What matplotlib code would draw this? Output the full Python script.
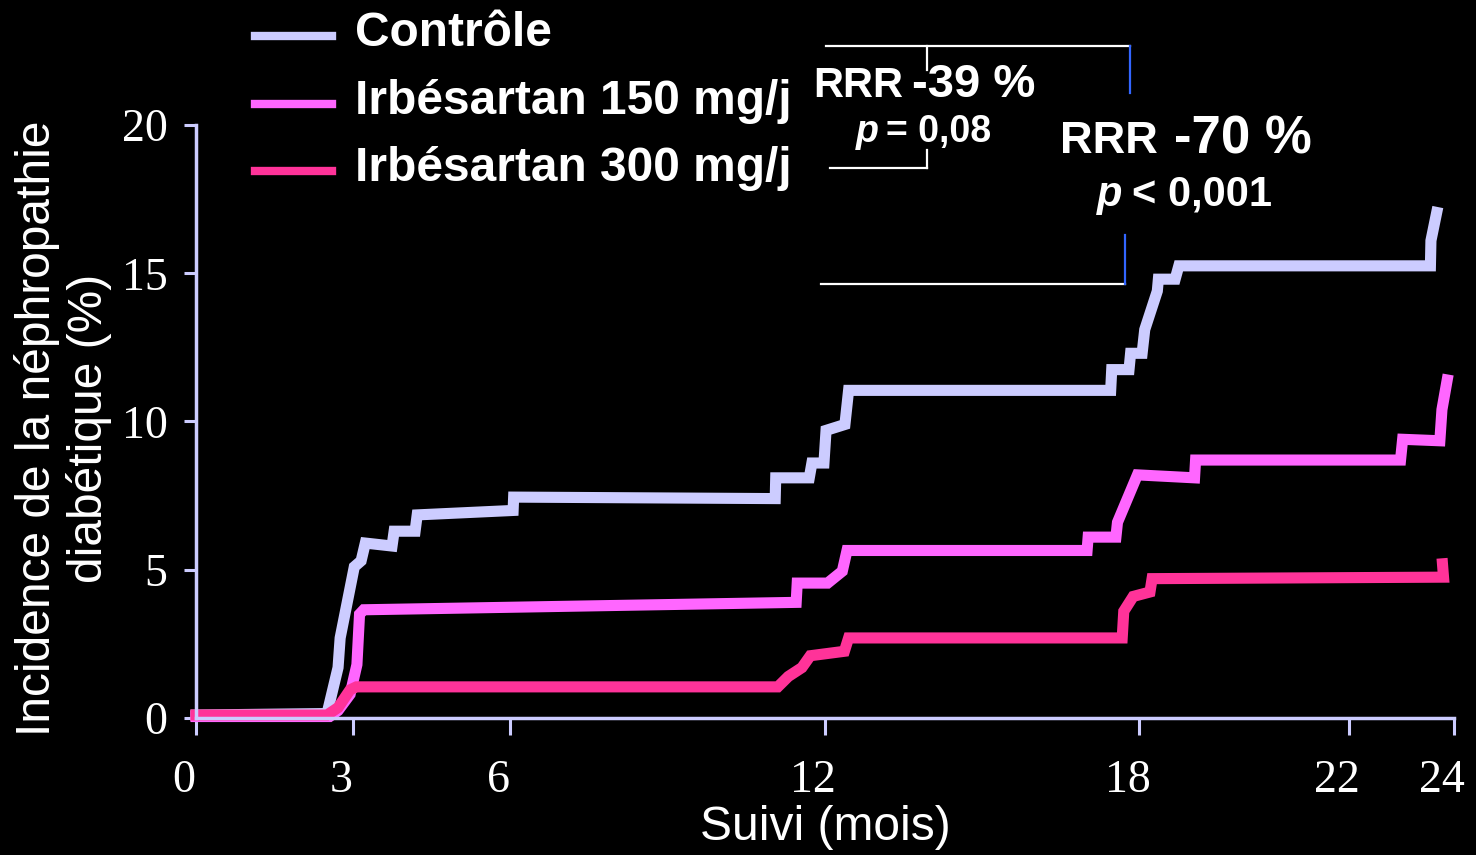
import matplotlib
matplotlib.use("Agg")
import matplotlib.pyplot as plt
from matplotlib.lines import Line2D
from matplotlib.transforms import ScaledTranslation

# cumulative incidence (%)
months_ctrl = [0, 2.5, 2.71, 2.75, 3.02, 3.15, 3.23, 3.74, 3.78, 4.18, 4.22, 6.05, 6.06,
               11.05, 11.06, 11.7, 11.75, 11.98, 12.02, 12.38, 12.45, 17.45, 17.47, 17.8,
               17.83, 18.05, 18.1, 18.34, 18.36, 18.68, 18.75, 23.55, 23.56, 23.67]
ctrl = [0.1, 0.15, 1.7, 2.7, 5.1, 5.3, 5.9, 5.8, 6.3, 6.3, 6.85, 7.0, 7.45,
        7.4, 8.1, 8.1, 8.6, 8.6, 9.7, 9.9, 11.05, 11.05, 11.75, 11.75,
        12.3, 12.3, 13.1, 14.4, 14.8, 14.8, 15.25, 15.25, 16.1, 17.05]

months_150 = [0, 2.55, 2.71, 2.94, 3.07, 3.12, 3.2, 11.45, 11.47, 12.05, 12.33, 12.42,
              17.0, 17.02, 17.55, 17.58, 17.96, 19.05, 19.07, 22.98, 23.02, 23.73, 23.77, 23.87]
irb150 = [0.05, 0.05, 0.25, 0.8, 1.8, 3.5, 3.65, 3.9, 4.55, 4.55, 4.95, 5.65,
          5.65, 6.1, 6.1, 6.6, 8.2, 8.1, 8.7, 8.7, 9.4, 9.35, 10.4, 11.4]

months_300 = [0, 2.5, 2.71, 2.94, 3.06, 11.1, 11.3, 11.56, 11.72, 12.37, 12.45, 17.67,
              17.7, 17.88, 18.2, 18.24, 23.8, 23.78]
irb300 = [0.1, 0.1, 0.35, 0.95, 1.05, 1.05, 1.4, 1.7, 2.1, 2.25, 2.7, 2.7,
          3.6, 4.1, 4.25, 4.7, 4.75, 5.2]

labels = ["Contrôle", "Irbésartan 150 mg/j", "Irbésartan 300 mg/j"]
colors = ["#CCCCFF", "#FF66FF", "#FF3399"]
xticks = [0, 3, 6, 12, 18, 22, 24]
yticks = [0, 5, 10, 15, 20]

W, H = 1476, 855
def fx(x):
    return x / W
def fy(y):
    return 1 - y / H

sans = "Liberation Sans"
serif = "Liberation Serif"
axcol = "#CCCCFF"

fig = plt.figure(figsize=(W / 100, H / 100), dpi=100, facecolor="black")
ax = fig.add_axes([fx(196), fy(718), fx(1454) - fx(196), fy(125) - fy(718)])
ax.set_facecolor("black")

series = [(months_ctrl, ctrl), (months_150, irb150), (months_300, irb300)]
for (x, y), c in zip(series, colors):
    ax.plot(x, y, color=c, lw=8, clip_on=False, solid_joinstyle="miter")

ax.set_xlim(0, 24)
ax.set_ylim(0, 20)
for s in ["top", "right"]:
    ax.spines[s].set_visible(False)
for s in ["left", "bottom"]:
    ax.spines[s].set_color(axcol)
    ax.spines[s].set_linewidth(2.5)

ax.set_xticks(xticks)
ax.set_yticks(yticks)
ax.tick_params(axis="x", length=12, width=2.2, color=axcol, pad=18,
               labelsize=33, labelcolor="white")
ax.tick_params(axis="y", length=8.5, width=2.2, color=axcol, pad=12,
               labelsize=33, labelcolor="white")
for lab in ax.get_xticklabels() + ax.get_yticklabels():
    lab.set_family(serif)
shift = ScaledTranslation(-12 / 100, 0, fig.dpi_scale_trans)
for lab in ax.get_xticklabels():
    lab.set_transform(lab.get_transform() + shift)

# axis titles
fig.text(fx(63), fy(428), "Incidence de la néphropathie\ndiabétique (%)", rotation=90,
         ha="center", va="center", multialignment="center", color="white",
         fontsize=34.5, family=sans, linespacing=1.18)
fig.text(fx(825), fy(840), "Suivi (mois)", ha="center", va="baseline", color="white",
         fontsize=34.5, family=sans)

# legend
leg_y = [36, 104, 171]
for lab, c, y in zip(labels, colors, leg_y):
    fig.add_artist(Line2D([fx(255), fx(332)], [fy(y), fy(y)], color=c, lw=6))
    fig.text(fx(355), fy(y + 10), lab, ha="left", va="baseline", color="white",
             fontsize=34.5, family=sans, fontweight="bold")

# brackets
def seg(x0, y0, x1, y1, c="white"):
    fig.add_artist(Line2D([fx(x0), fx(x1)], [fy(y0), fy(y1)], color=c, lw=1.6))

seg(826, 46, 1130, 46)
seg(927, 46, 927, 70)
seg(830, 168, 927, 168)
seg(927, 150, 927, 168)
seg(821, 284, 1125, 284)
seg(1130, 46, 1130, 93, "#3366FF")
seg(1125, 235, 1125, 284, "#3366FF")

def txt(x, y, s, size, ha, style="normal"):
    fig.text(fx(x), fy(y), s, ha=ha, va="baseline", color="white", fontsize=size,
             family=sans, fontweight="bold", fontstyle=style)

txt(903, 97, "RRR", 30, "right")
txt(912, 97, "-39 %", 34, "left")
txt(879, 142, "p", 27, "right", "italic")
txt(886, 142, "= 0,08", 27, "left")
txt(1158, 153, "RRR", 32.5, "right")
txt(1174, 153, "-70 %", 38, "left")
txt(1122, 206, "p", 30, "right", "italic")
txt(1132, 206, "< 0,001", 30, "left")

fig.savefig("out.png", dpi=100, facecolor="black")
